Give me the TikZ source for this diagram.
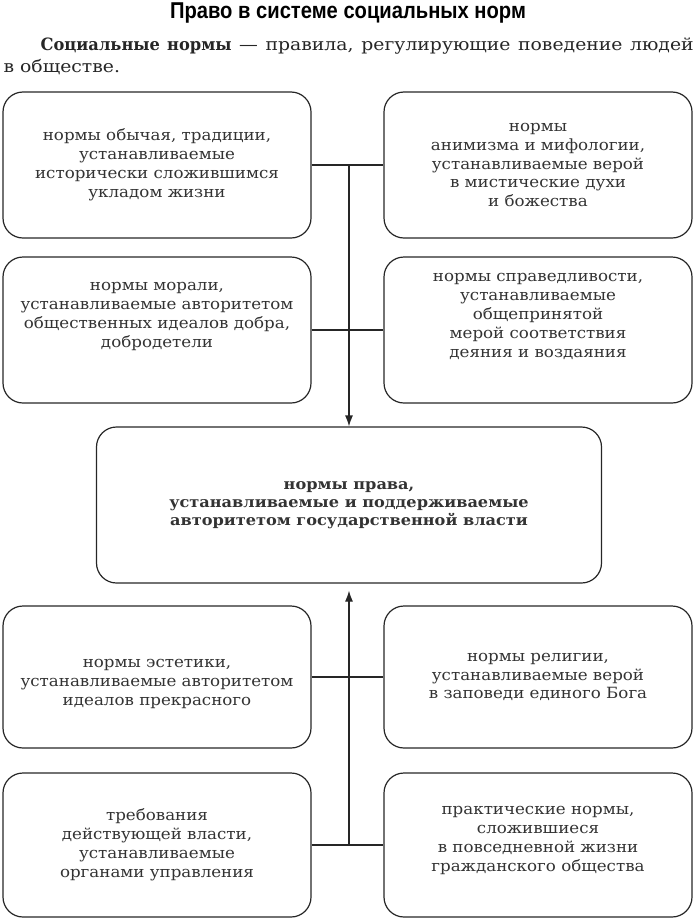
\documentclass[tikz,border=0pt]{standalone}
\usepackage{fontspec}
\setmainfont[FakeStretch=1.08]{DejaVu Serif}
\newfontfamily\deffont[FakeStretch=1.11, BoldFeatures={FakeStretch=0.96}]{DejaVu Serif}
\newfontfamily\titlefont[FakeStretch=0.88]{Liberation Sans}
\usetikzlibrary{arrows.meta,positioning,calc}

\begin{document}
\begin{tikzpicture}[x=1bp, y=-1bp, line width=1.2bp, draw=black!85,
    box/.style={draw=black!85, rounded corners=20bp, align=center,
        minimum width=308bp, minimum height=146bp, inner sep=0pt,
        font=\fontsize{15.5}{19}\selectfont, text=black!80},
    >={Latex[length=11bp,width=8bp]}]
    \useasboundingbox (0,0) rectangle (696,920);

    % Title and definition
    \node[font=\titlefont\bfseries\fontsize{23}{26}\selectfont] (title) at (348,13) {Право в системе социальных норм};
    \node[anchor=north west, text width=690bp, align=justify, inner sep=0pt,
        font=\deffont\fontsize{17}{22}\selectfont, text=black!85] (def) at (3,37)
        {\hspace*{37bp}\textbf{Социальные нормы} — правила, регулирующие поведение людей в~обществе.};

    % Upper boxes
    \node[box] (custom) at (157,165) {нормы обычая, традиции,\\ устанавливаемые\\ исторически сложившимся\\ укладом жизни};
    \node[box] (myth) at (538,165) {нормы\\ анимизма и мифологии,\\ устанавливаемые верой\\ в мистические духи\\ и божества};
    \node[box] (morals) at (157,330) {нормы морали,\\ устанавливаемые авторитетом\\ общественных идеалов добра,\\ добродетели\\[11bp]\mbox{}};
    \node[box] (justice) at (538,330) {нормы справедливости,\\ устанавливаемые\\ общепринятой\\ мерой соответствия\\ деяния и воздаяния\\[11bp]\mbox{}};

    % Law
    \node[box, minimum width=505bp, minimum height=156bp, font=\bfseries\fontsize{15}{18}\selectfont] (law) at (349,505)
        {нормы права,\\ устанавливаемые и поддерживаемые\\ авторитетом государственной власти};

    % Lower boxes
    \node[box, minimum height=142bp] (aesthetics) at (157,677) {\mbox{}\\[4bp] нормы эстетики,\\ устанавливаемые авторитетом\\ идеалов прекрасного};
    \node[box, minimum height=142bp] (religion) at (538,677) {нормы религии,\\ устанавливаемые верой\\ в заповеди единого Бога};
    \node[box, minimum height=144bp] (power) at (157,845) {требования\\ действующей власти,\\ устанавливаемые\\ органами управления};
    \node[box, minimum height=144bp] (practice) at (538,845) {практические нормы,\\ сложившиеся\\ в повседневной жизни\\ гражданского общества\\[-7bp]\mbox{}};

    % Connectors
    \draw (custom.east) -- (myth.west);
    \draw (morals.east) -- (justice.west);
    \draw[->] (custom.east -| law.north) -- (law.north);
    \draw (aesthetics.east) -- (religion.west);
    \draw (power.east) -- (practice.west);
    \draw[->] (power.east -| law.south) -- ([yshift=-7bp]law.south);
\end{tikzpicture}
\end{document}
